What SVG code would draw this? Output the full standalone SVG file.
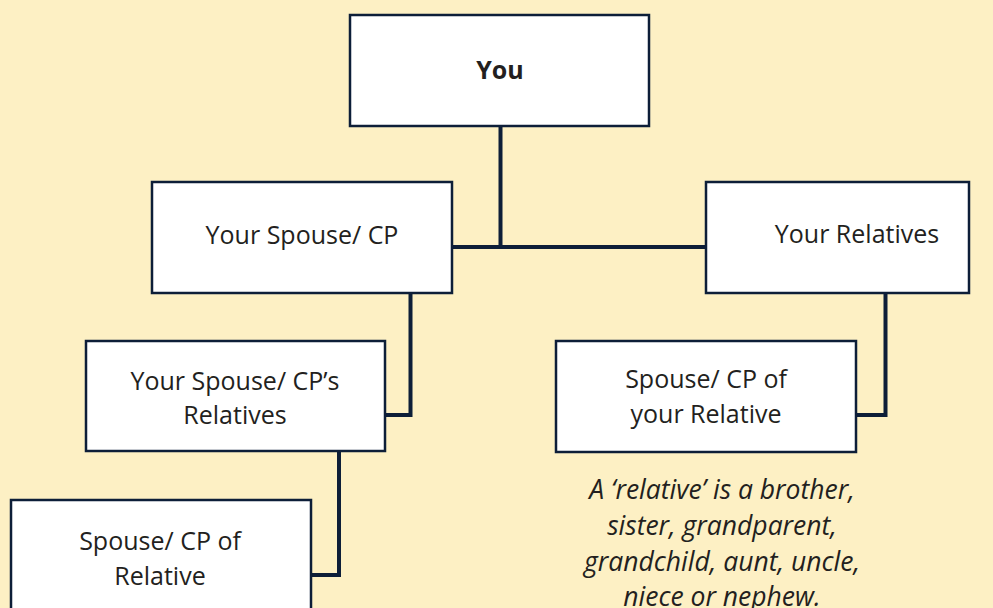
<svg xmlns="http://www.w3.org/2000/svg" width="993" height="608" viewBox="0 0 993 608">
<style>
.box{fill:#ffffff;stroke:#0d1e38;stroke-width:2.5}
.t{font-family:"Open Sans","Liberation Sans",sans-serif;font-size:25px;fill:#231f20;text-anchor:middle}
.b{font-weight:bold}
.i{font-style:italic;font-size:26.5px}
.c{fill:none;stroke:#0d1e38;stroke-width:4;stroke-linecap:butt;stroke-linejoin:miter}
</style>
<rect x="0" y="0" width="993" height="608" fill="#fdf0c4"/>
<g id="connectors">
<path class="c" d="M500.5,126 V248"/>
<path class="c" d="M452,247 H706" stroke-width="6"/>
<path class="c" d="M410.5,293 V415 H385"/>
<path class="c" d="M885.5,293 V415 H856"/>
<path class="c" d="M339,451 V575 H311"/>
</g>
<g id="you">
<rect class="box" x="350" y="15" width="299" height="111"/>
<text class="t b" x="500" y="79">You</text>
</g>
<g id="spouse">
<rect class="box" x="152" y="182" width="300" height="111"/>
<text class="t" x="302" y="244">Your Spouse/ CP</text>
</g>
<g id="relatives">
<rect class="box" x="706" y="182" width="263" height="111"/>
<text class="t" x="857" y="243">Your Relatives</text>
</g>
<g id="spouse-relatives">
<rect class="box" x="86" y="341" width="299" height="110"/>
<text class="t" x="235" y="390">Your Spouse/ CP’s</text>
<text class="t" x="235" y="424">Relatives</text>
</g>
<g id="spouse-of-relative">
<rect class="box" x="556" y="341" width="300" height="111"/>
<text class="t" x="706" y="388">Spouse/ CP of</text>
<text class="t" x="706" y="423">your Relative</text>
</g>
<g id="spouse-of-relative-2">
<rect class="box" x="11" y="500" width="300" height="120"/>
<text class="t" x="160" y="550">Spouse/ CP of</text>
<text class="t" x="160" y="585">Relative</text>
</g>
<g id="note">
<text class="t i" x="722" y="499">A ‘relative’ is a brother,</text>
<text class="t i" x="722" y="535">sister, grandparent,</text>
<text class="t i" x="722" y="571">grandchild, aunt, uncle,</text>
<text class="t i" x="722" y="606">niece or nephew.</text>
</g>
</svg>
